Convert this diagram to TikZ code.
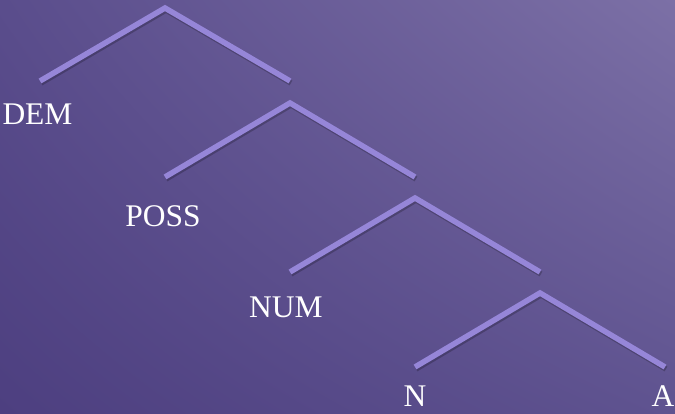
\documentclass[tikz,border=0pt]{standalone}
\usepackage{fontspec}
\setmainfont{Liberation Serif}
\usetikzlibrary{positioning,shadings}

\definecolor{bgtl}{HTML}{5A4D8C}
\definecolor{bgtr}{HTML}{7C70A6}
\definecolor{bgbl}{HTML}{4D3F80}
\definecolor{bgbr}{HTML}{5F5390}
\definecolor{branchcol}{HTML}{9686D8}

\tikzset{
  branch/.style={draw=branchcol, line width=5.5pt, line cap=butt, line join=miter,
    preaction={draw=black, draw opacity=0.22, line width=5.5pt, transform canvas={shift={(1pt,-2pt)}}}},
  cat/.style={text=white, font=\fontsize{31.5}{32}\selectfont, inner sep=0pt, anchor=base}
}

\begin{document}
\begin{tikzpicture}[x=1pt,y=-1pt]
% Background
\shade[upper left=bgtl, upper right=bgtr, lower left=bgbl, lower right=bgbr]
  (0,0) rectangle (675,413);
\useasboundingbox (0,0) rectangle (675,413);

% Branching points
\coordinate (top1) at (165,8);
\coordinate (top2) at (290,103);
\coordinate (top3) at (415,198);
\coordinate (top4) at (540,293);

% Branch ends
\coordinate (dem) at (40,81);
\coordinate (right1) at (290,81);
\coordinate (poss) at (165,177);
\coordinate (right2) at (415,177);
\coordinate (num) at (290,272);
\coordinate (right3) at (540,272);
\coordinate (n) at (415,367);
\coordinate (a) at (665,367);

% Branches
\draw[branch] (dem) -- (top1) -- (right1);
\draw[branch] (poss) -- (top2) -- (right2);
\draw[branch] (num) -- (top3) -- (right3);
\draw[branch] (n) -- (top4) -- (a);

% Labels
\node[cat] (demlbl) at (37.5,124) {DEM};
\node[cat] (posslbl) at (163,226) {POSS};
\node[cat] (numlbl) at (286,317) {NUM};
\node[cat] (nlbl) at (415,406) {N};
\node[cat] (albl) at (663,406) {A};
\end{tikzpicture}
\end{document}
